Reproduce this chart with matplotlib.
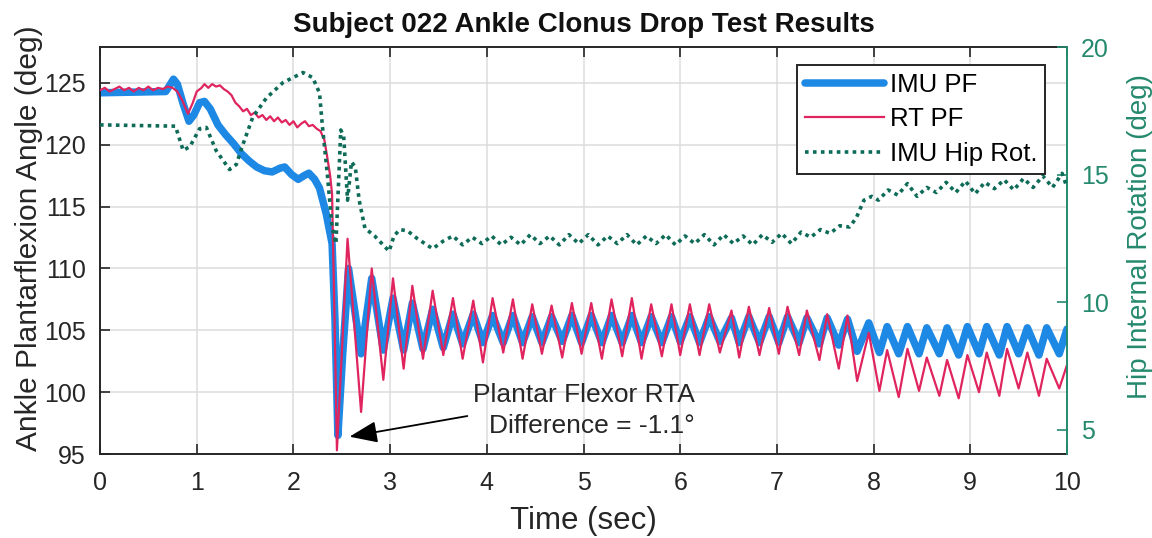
import matplotlib
matplotlib.use("Agg")
import matplotlib.pyplot as plt

# ---------------- data ----------------
imu_t = [0.00, 0.68, 0.72, 0.76, 0.80, 0.86, 0.92, 0.97, 1.03, 1.08, 1.14, 1.22, 1.30,
         1.38, 1.46, 1.54, 1.62, 1.70, 1.78, 1.86, 1.91, 1.98, 2.05, 2.11, 2.16, 2.22,
         2.27, 2.34, 2.40, 2.43, 2.46, 2.51, 2.57, 2.70, 2.81, 2.93, 3.03, 3.14, 3.23,
         3.34, 3.44, 3.55, 3.65, 3.75, 3.86, 3.96,
         4.06, 4.17, 4.27, 4.37, 4.47, 4.57, 4.67, 4.78, 4.88, 4.98, 5.08, 5.19, 5.29,
         5.40, 5.50, 5.60, 5.70, 5.81, 5.91, 6.00, 6.10, 6.20, 6.30, 6.41, 6.53, 6.61,
         6.71, 6.82, 6.92, 7.02, 7.11, 7.23, 7.31, 7.44, 7.52, 7.64, 7.73, 7.83, 7.95,
         8.06, 8.14, 8.26, 8.35, 8.47, 8.55, 8.68, 8.76, 8.88, 8.97, 9.09, 9.17, 9.30,
         9.38, 9.50, 9.59, 9.71, 9.79, 9.92, 10.00]
imu_pf = [124.2, 124.3, 124.8, 125.3, 124.9, 123.3, 121.9, 122.4, 123.4, 123.5, 122.9,
          121.6, 120.8, 120.1, 119.3, 118.7, 118.2, 117.9, 117.8, 118.1, 118.2, 117.6,
          117.2, 117.5, 117.7, 117.2, 116.5, 114.4, 112.0, 105.8, 96.5, 103.1, 110.0,
          103.1, 109.2, 103.4, 107.6, 103.4, 107.2, 103.5, 106.7, 103.6, 106.3, 103.9,
          106.3, 104.0,
          106.2, 104.0, 106.2, 104.0, 106.1, 104.0, 106.1, 104.1, 106.2, 104.0, 106.2,
          104.0, 106.2, 104.0, 106.2, 104.0, 106.1, 104.0, 106.1, 104.1, 106.1, 104.0,
          106.1, 104.1, 106.0, 104.0, 106.1, 104.0, 106.1, 104.0, 106.1, 104.0, 106.0,
          103.9, 106.0, 103.8, 105.9, 103.3, 105.6,
          103.2, 105.3, 103.1, 105.3, 103.1, 105.2, 103.1, 105.2, 103.0, 105.3, 103.1,
          105.3, 103.0, 105.3, 103.1, 105.2, 103.0, 105.2, 103.1, 105.1]

rt_t = [0.00, 0.05, 0.10, 0.15, 0.20, 0.25, 0.30, 0.35, 0.40, 0.45, 0.50, 0.55, 0.60,
        0.65, 0.70, 0.75, 0.80, 0.85, 0.91, 0.96, 1.00, 1.05, 1.08, 1.12, 1.16, 1.20,
        1.24, 1.28, 1.32, 1.36, 1.40, 1.44, 1.48, 1.52, 1.56, 1.60, 1.64, 1.68, 1.72,
        1.76, 1.80, 1.84, 1.88, 1.92, 1.96, 2.00, 2.04, 2.08, 2.12, 2.16, 2.20, 2.24,
        2.28, 2.32, 2.35, 2.38, 2.40, 2.43, 2.45,
        2.56, 2.70, 2.81, 2.93, 3.03, 3.14, 3.23, 3.34, 3.44, 3.55, 3.65, 3.75, 3.86,
        3.96, 4.06, 4.17, 4.27, 4.37, 4.47, 4.57, 4.67, 4.78, 4.88, 4.98, 5.08, 5.19,
        5.29, 5.40, 5.50, 5.60, 5.70, 5.81, 5.91, 6.00, 6.10, 6.20, 6.30, 6.41, 6.53,
        6.61, 6.71, 6.82, 6.92, 7.02, 7.11, 7.23, 7.31, 7.44, 7.52, 7.64, 7.73, 7.83,
        7.95, 8.06, 8.14, 8.26, 8.35, 8.47, 8.55, 8.68, 8.76, 8.88, 8.97, 9.09, 9.17,
        9.30, 9.38, 9.50, 9.59, 9.71, 9.79, 9.92, 10.00]
rt_pf = [124.4, 124.6, 124.3, 124.5, 124.7, 124.4, 124.6, 124.3, 124.6, 124.4, 124.7,
         124.4, 124.6, 124.5, 124.7, 124.6, 124.3, 123.6, 122.5, 123.4, 124.3, 124.6,
         124.9, 124.6, 124.9, 124.7, 124.8, 124.5, 124.3, 124.0, 123.4, 123.1, 122.7,
         122.9, 122.4, 122.6, 122.2, 122.4, 122.0, 122.3, 121.9, 122.2, 121.8, 122.0,
         121.6, 121.9, 121.4, 121.7, 121.9, 121.5, 121.6, 121.3, 121.1, 120.4, 119.0,
         117.5, 116.0, 104.0, 95.3,
         112.4, 98.4, 110.0, 101.0, 109.2, 101.9, 108.6, 102.7, 108.2, 103.0, 107.6,
         102.7, 107.4, 102.4, 107.6, 103.2, 107.5, 102.7, 107.1, 103.1, 107.0, 102.8,
         107.2, 103.1, 107.2, 102.7, 107.5, 102.9, 107.6, 102.7, 107.1, 102.9, 107.1,
         103.0, 107.1, 103.0, 107.1, 103.2, 106.6, 102.8, 106.9, 103.0, 106.8, 103.1,
         106.9, 103.0, 106.6, 102.6, 106.3, 101.9, 106.2, 100.9, 104.8, 100.1, 103.4,
         99.6, 103.5, 100.1, 102.8, 99.7, 102.6, 99.5, 103.0, 100.0, 103.2, 99.7, 103.5,
         100.3, 103.2, 99.7, 102.7, 100.3, 102.2]

hip_t = [0.00, 0.78, 0.86, 0.93, 1.03, 1.10, 1.20, 1.34, 1.41, 1.47, 1.58, 1.72, 1.89,
         2.10, 2.20, 2.27, 2.30, 2.35, 2.40, 2.44, 2.49, 2.52, 2.56, 2.60, 2.64, 2.68,
         2.74, 2.84, 2.99, 3.04, 3.10, 3.18, 3.28, 3.44,
         3.55, 3.65, 3.75, 3.85, 3.95, 4.05, 4.15, 4.25, 4.35, 4.45, 4.55, 4.65, 4.75,
         4.85, 4.95, 5.05, 5.15, 5.25, 5.35, 5.45, 5.55, 5.65, 5.75, 5.85, 5.95, 6.05,
         6.15, 6.25, 6.35, 6.45, 6.55, 6.65, 6.75, 6.85, 6.95, 7.05, 7.15, 7.25,
         7.35, 7.45, 7.55, 7.65, 7.75, 7.82, 7.90, 7.98, 8.05, 8.15, 8.25, 8.35, 8.45,
         8.55, 8.65, 8.75, 8.85, 8.95, 9.05, 9.15, 9.25, 9.35, 9.45, 9.55, 9.65, 9.75,
         9.85, 9.95, 10.00]
hip_rot = [16.95, 16.9, 15.95, 16.1, 16.8, 16.85, 15.95, 15.2, 15.4, 16.1, 17.25, 18.0,
           18.6, 19.0, 18.8, 18.2, 16.9, 15.05, 12.95, 12.3, 16.75, 16.5, 14.0, 15.5,
           15.3, 14.0, 12.9, 12.6, 12.0, 12.6, 12.85, 12.8, 12.5, 12.1,
           12.40, 12.60, 12.25, 12.55, 12.30, 12.60, 12.25, 12.55, 12.25, 12.65, 12.30,
           12.60, 12.25, 12.65, 12.30, 12.65, 12.25, 12.60, 12.30, 12.65, 12.25, 12.60,
           12.30, 12.65, 12.25, 12.60, 12.30, 12.65, 12.25, 12.65, 12.30, 12.60, 12.25,
           12.65, 12.35, 12.70, 12.30, 12.75,
           12.55, 12.85, 12.70, 13.00, 12.95, 13.30, 14.00, 14.15, 14.00, 14.40, 14.20,
           14.65, 14.15, 14.50, 14.30, 14.70, 14.30, 14.75, 14.25, 14.70, 14.45, 14.80,
           14.40, 14.85, 14.50, 14.95, 14.50, 15.05, 14.50]

x_ticks = [0, 1, 2, 3, 4, 5, 6, 7, 8, 9, 10]
left_ticks = [95, 100, 105, 110, 115, 120, 125]
right_ticks = [5, 10, 15, 20]

title = "Subject 022 Ankle Clonus Drop Test Results"
xlabel = "Time (sec)"
ylabel_left = "Ankle Plantarflexion Angle (deg)"
ylabel_right = "Hip Internal Rotation (deg)"
labels = ["IMU PF", "RT PF", "IMU Hip Rot."]
note = "Plantar Flexor RTA\nDifference = -1.1°"

# ---------------- styling ----------------
plt.rcParams['font.family'] = ['Liberation Sans', 'DejaVu Sans']
BLUE = '#1e88e5'
RED = '#e0245e'
GREEN = '#0e6b57'
GREEN_AX = '#25896e'
DARK = '#262626'

fig = plt.figure(figsize=(11.52, 5.38), dpi=100)
ax1 = fig.add_axes([100 / 1152, 1 - 454 / 538, 967 / 1152, 407 / 538])
ax2 = ax1.twinx()

l1, = ax1.plot(imu_t, imu_pf, color=BLUE, lw=5.4, solid_joinstyle='round',
               solid_capstyle='round', zorder=2)
l2, = ax1.plot(rt_t, rt_pf, color=RED, lw=1.6, solid_joinstyle='round', zorder=3)
l3, = ax2.plot(hip_t, hip_rot, color=GREEN, lw=2.6, linestyle=(0, (1, 1.2)), zorder=3)

ax1.set_xlim(0, 10)
ax1.set_ylim(95, 127.9)
ax2.set_ylim(4.06, 20)
ax1.set_xticks(x_ticks)
ax1.set_yticks(left_ticks)
ax2.set_yticks(right_ticks)

ax1.grid(True, color='#dcdcdc', lw=1.1)
ax1.set_axisbelow(True)

for s in ['left', 'top', 'bottom']:
    ax1.spines[s].set_color(DARK)
    ax1.spines[s].set_linewidth(1.4)
    ax2.spines[s].set_visible(False)
ax1.spines['right'].set_visible(False)
ax2.spines['right'].set_color(GREEN_AX)
ax2.spines['right'].set_linewidth(1.4)

ax1.tick_params(axis='both', direction='in', length=7, width=1.2, colors=DARK,
                labelsize=18, top=True, right=False)
ax1.tick_params(axis='x', pad=12)
ax1.tick_params(axis='y', pad=10)
ax2.tick_params(axis='y', direction='in', length=7, width=1.2, colors=GREEN_AX,
                labelsize=18, pad=10)

ax1.set_xlabel(xlabel, fontsize=22.5, color=DARK, labelpad=8)
ax1.set_ylabel(ylabel_left, fontsize=21.5, color=DARK, labelpad=1)
ax1.yaxis.label.set_y(0.53)
ax2.set_ylabel(ylabel_right, fontsize=20, color=GREEN_AX, labelpad=13)
ax2.yaxis.label.set_y(0.535)
ax1.set_title(title, fontsize=20, fontweight='bold', color='#111111', pad=11)

ax1.annotate(note, xy=(2.58, 96.4), xytext=(6.15, 98.5), xycoords='data',
             textcoords='data', ha='right', va='center', multialignment='right',
             fontsize=19, color=DARK, linespacing=1.35,
             arrowprops=dict(arrowstyle='-|>,head_length=0.9,head_width=0.35',
                             color='black', lw=1.3, shrinkA=2, shrinkB=0,
                             relpos=(0.0, 0.42)),
             zorder=5)

leg = ax2.legend([l1, l2, l3], labels, loc='upper right',
                 bbox_to_anchor=(0.977, 0.956), borderaxespad=0, fontsize=18.5,
                 handlelength=3.1, handletextpad=0.2, labelspacing=0.42,
                 borderpad=0.3, fancybox=False, framealpha=1, edgecolor=DARK)
leg.get_frame().set_linewidth(1.4)

fig.savefig('out.png', dpi=100, facecolor='white')
